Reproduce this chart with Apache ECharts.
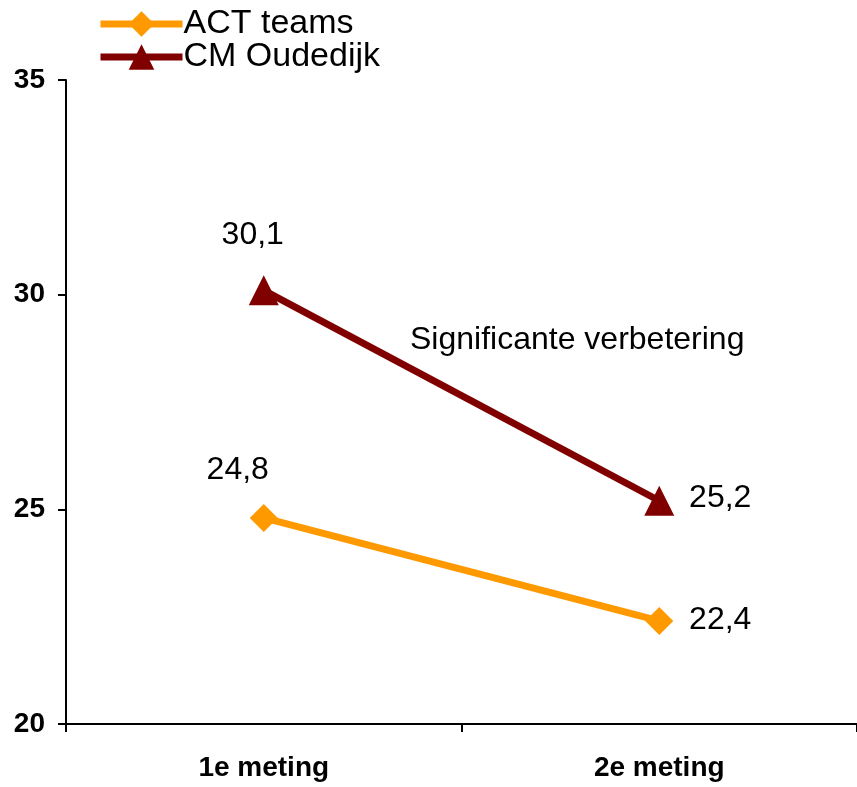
<!DOCTYPE html>
<html><head><meta charset="utf-8">
<script src="https://cdn.jsdelivr.net/npm/echarts@6/dist/echarts.min.js"></script>
<style>html,body{margin:0;padding:0;background:#fff}#c{width:857px;height:787px}</style>
</head><body><div id="c"></div>
<script>
const categories = ['1e meting', '2e meting'];
const actTeams = [24.8, 22.4];
const cmOudedijk = [30.1, 25.2];
const yTicks = [20, 25, 30, 35];
const annotation = 'Significante verbetering';

const chart = echarts.init(document.getElementById('c'));
const labelFont = {fontFamily: 'Liberation Sans, Arial', fontSize: 32, color: '#000'};
function mkData(vals, offs) {
  return vals.map((v, i) => ({
    value: v,
    label: Object.assign({show: true, formatter: p => String(p.value).replace('.', ','), position: 'inside', offset: offs[i], align: 'center', verticalAlign: 'middle'}, labelFont)
  }));
}
chart.setOption({
  animation: false,
  grid: {left: 66, top: 80, width: 794, bottom: 63},
  legend: {
    left: 92, top: 2, orient: 'vertical', itemWidth: 82, itemHeight: 32, itemGap: -1,
    lineStyle: {width: 7},
    textStyle: {fontFamily: 'Liberation Sans, Arial', fontSize: 34, lineHeight: 31, color: '#000', padding: [0, 0, 0, -4]},
    data: ['ACT teams', 'CM Oudedijk']
  },
  xAxis: {
    type: 'category', data: categories, boundaryGap: true,
    axisLine: {lineStyle: {color: '#000', width: 2}},
    axisTick: {show: true, length: 8, lineStyle: {color: '#000', width: 2}},
    axisLabel: {fontFamily: 'Liberation Sans, Arial', fontWeight: 'bold', fontSize: 28, color: '#000', margin: 30}
  },
  yAxis: {
    type: 'value', min: yTicks[0], max: yTicks[yTicks.length - 1], interval: 5,
    splitLine: {show: false},
    axisLine: {show: true, lineStyle: {color: '#000', width: 2}},
    axisTick: {show: true, length: 8, lineStyle: {color: '#000', width: 2}},
    axisLabel: {fontFamily: 'Liberation Sans, Arial', fontWeight: 'bold', fontSize: 28, color: '#000', margin: 21}
  },
  series: [
    {
      name: 'ACT teams', type: 'line', data: mkData(actTeams, [[-26, -48], [61, -1]]),
      symbol: 'diamond', symbolSize: 28,
      lineStyle: {color: '#FF9900', width: 7},
      itemStyle: {color: '#FF9900'}, z: 3
    },
    {
      name: 'CM Oudedijk', type: 'line', data: mkData(cmOudedijk, [[-11, -55], [61, -3]]),
      symbol: 'triangle', symbolSize: 30,
      lineStyle: {color: '#800000', width: 7},
      itemStyle: {color: '#800000'}, z: 3
    }
  ],
  graphic: [{
    type: 'text', left: 410, top: 324,
    style: {text: annotation, font: '32px "Liberation Sans", Arial', fill: '#000'}
  }]
});
</script></body></html>
